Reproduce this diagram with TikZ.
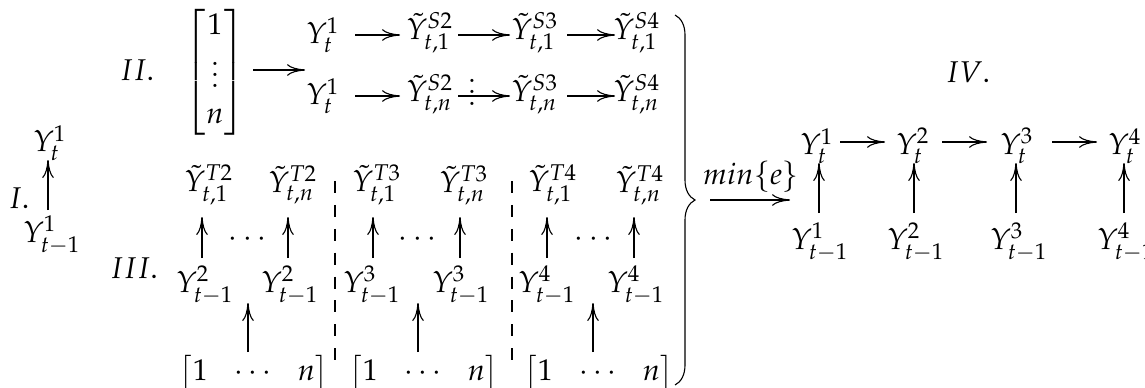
\documentclass[tikz,border=0pt]{standalone}
\usepackage{amsmath}
\usepackage{mathpazo}
\usetikzlibrary{arrows.meta,calc,decorations.pathreplacing}
\newcommand{\rowvec}{\bigl[1\hspace{7.5pt}\cdots\hspace{7.5pt}n\bigr]}
\begin{document}
\begin{tikzpicture}[x=0.36pt,y=-0.36pt,
  arr/.style={-{Computer Modern Rightarrow[length=6.5pt,width=4.2pt]}},
  lbl/.style={inner sep=0pt,font=\fontsize{10.8}{13}\selectfont},
  sepline/.style={dash pattern=on 4.3pt off 4.3pt}]
\useasboundingbox (0,0) rectangle (1145,387);
\clip (0,0) rectangle (1145,387);

% ---------- I ----------
\node[lbl] (lI) at (19,198) {$I.$};
\node[lbl] (i1t) at (50,143) {$Y_t^1$};
\node[lbl] (i1b) at (52,235) {$Y_{t-1}^1$};
\draw[arr] ($(i1b.center)+(-4,-25)$) -- ($(i1b.center |- i1t.center)+(-4,17)$);

% ---------- II ----------
\node[lbl] (lII) at (137,70) {$II.$};
\node[lbl] (mII) at (215,72) {$\begin{bmatrix}1\\ \vdots\\ n\end{bmatrix}$};
\coordinate (cII) at (305,70);
\draw[arr] ($(mII.center |- cII)+(38,0)$) -- (cII);

\node[lbl] (r1a) at (323,35) {$Y_t^1$};
\node[lbl] (r1b) at (430,33) {$\tilde{Y}^{S2}_{t,1}$};
\node[lbl] (r1c) at (535,33) {$\tilde{Y}^{S3}_{t,1}$};
\node[lbl] (r1d) at (637,33) {$\tilde{Y}^{S4}_{t,1}$};
\draw[arr] ($(r1a.center)+(32,0)$) -- ($(r1a.center -| r1b.center)+(-30,0)$);
\draw[arr] ($(r1a.center -| r1b.center)+(28,0)$) -- ($(r1a.center -| r1c.center)+(-25,0)$);
\draw[arr] ($(r1a.center -| r1c.center)+(32,0)$) -- ($(r1a.center -| r1d.center)+(-22,0)$);

\node[lbl] (r2a) at (323,96) {$Y_t^1$};
\node[lbl] (r2b) at (430,94) {$\tilde{Y}^{S2}_{t,n}$};
\node[lbl] (r2c) at (535,94) {$\tilde{Y}^{S3}_{t,n}$};
\node[lbl] (r2d) at (637,94) {$\tilde{Y}^{S4}_{t,n}$};
\node[lbl] (r2v) at (472,84) {$\vdots$};
\draw[arr] ($(r2a.center)+(32,0)$) -- ($(r2a.center -| r2b.center)+(-30,0)$);
\draw[arr] ($(r2a.center -| r2b.center)+(28,0)$) -- ($(r2a.center -| r2c.center)+(-25,0)$);
\draw[arr] ($(r2a.center -| r2c.center)+(32,0)$) -- ($(r2a.center -| r2d.center)+(-22,0)$);

% ---------- III ----------
\node[lbl] (lIII) at (134,268) {$III.$};

% group T2
\node[lbl] (t2a) at (209,185) {$\tilde{Y}^{T2}_{t,1}$};
\node[lbl] (t2b) at (293,185) {$\tilde{Y}^{T2}_{t,n}$};
\node[lbl] (b2a) at (205,285) {$Y^2_{t-1}$};
\node[lbl] (b2b) at (290,285) {$Y^2_{t-1}$};
\node[lbl] (d2) at (250,240) {$\cdots$};
\node[lbl] (m2) at (254,373) {$\rowvec$};
\draw[arr] ($(b2a.center)+(-3,-27)$) -- ($(b2a.center |- t2a.center)+(-3,32)$);
\draw[arr] ($(b2b.center)+(-2,-27)$) -- ($(b2b.center |- t2b.center)+(-2,32)$);
\coordinate (e2) at (248,303);
\draw[arr] ($(m2.center -| e2)+(0,-21)$) -- (e2);

% group T3
\node[lbl] (t3a) at (377,185) {$\tilde{Y}^{T3}_{t,1}$};
\node[lbl] (t3b) at (464,185) {$\tilde{Y}^{T3}_{t,n}$};
\node[lbl] (b3a) at (372,285) {$Y^3_{t-1}$};
\node[lbl] (b3b) at (461,285) {$Y^3_{t-1}$};
\node[lbl] (d3) at (420,240) {$\cdots$};
\node[lbl] (m3) at (424,373) {$\rowvec$};
\draw[arr] ($(b3a.center)+(1,-27)$) -- ($(b3a.center |- t3a.center)+(1,32)$);
\draw[arr] ($(b3b.center)+(-1,-27)$) -- ($(b3b.center |- t3b.center)+(-1,32)$);
\coordinate (e3) at (418,303);
\draw[arr] ($(m3.center -| e3)+(0,-21)$) -- (e3);

% group T4
\node[lbl] (t4a) at (553,185) {$\tilde{Y}^{T4}_{t,1}$};
\node[lbl] (t4b) at (640,185) {$\tilde{Y}^{T4}_{t,n}$};
\node[lbl] (b4a) at (547,285) {$Y^4_{t-1}$};
\node[lbl] (b4b) at (636,285) {$Y^4_{t-1}$};
\node[lbl] (d4) at (596,240) {$\cdots$};
\node[lbl] (m4) at (599,373) {$\rowvec$};
\draw[arr] ($(b4a.center)+(0,-27)$) -- ($(b4a.center |- t4a.center)+(0,32)$);
\draw[arr] ($(b4b.center)+(-2,-27)$) -- ($(b4b.center |- t4b.center)+(-2,32)$);
\coordinate (e4) at (593,303);
\draw[arr] ($(m4.center -| e4)+(0,-21)$) -- (e4);

% separators
\draw[sepline] (335,181) -- (335,362);
\draw[sepline] (512,181) -- (512,362);

% ---------- brace and min{e} ----------
\draw[decorate,decoration={brace,amplitude=7.2pt}] (675,15) -- (675,385);
\coordinate (btip) at (697,200);
\coordinate (mend) at (790,200);
\draw[arr] ($(btip)+(13,0)$) -- (mend);
\node[lbl] (minl) at (751,177) {$min\{e\}$};

% ---------- IV ----------
\node[lbl] (lIV) at (968,72) {$IV.$};
\node[lbl] (q1) at (817,146) {$Y_t^1$};
\node[lbl] (q2) at (913,146) {$Y_t^2$};
\node[lbl] (q3) at (1017,146) {$Y_t^3$};
\node[lbl] (q4) at (1125,146) {$Y_t^4$};
\node[lbl] (p1) at (820,242) {$Y_{t-1}^1$};
\node[lbl] (p2) at (916,242) {$Y_{t-1}^2$};
\node[lbl] (p3) at (1019,242) {$Y_{t-1}^3$};
\node[lbl] (p4) at (1126,242) {$Y_{t-1}^4$};
\draw[arr] ($(q1.center)+(23,-4)$) -- ($(q2.center)+(-28,-4)$);
\draw[arr] ($(q2.center)+(29,-4)$) -- ($(q3.center)+(-30,-4)$);
\draw[arr] ($(q3.center)+(35,-4)$) -- ($(q4.center)+(-28,-4)$);
\draw[arr] ($(p1.center)+(-1,-29)$) -- ($(p1.center |- q1.center)+(-1,17)$);
\draw[arr] ($(p2.center)+(-2,-29)$) -- ($(p2.center |- q2.center)+(-2,17)$);
\draw[arr] ($(p3.center)+(-3,-29)$) -- ($(p3.center |- q3.center)+(-3,17)$);
\draw[arr] ($(p4.center)+(-2,-29)$) -- ($(p4.center |- q4.center)+(-2,17)$);
\end{tikzpicture}
\end{document}
